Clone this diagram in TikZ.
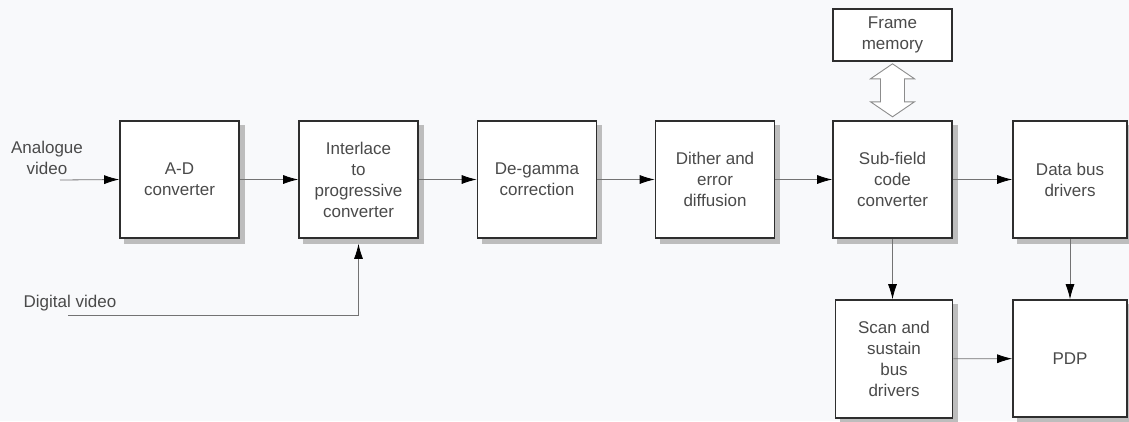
\documentclass[tikz,border=0pt]{standalone}
\usepackage{fontspec}
\setmainfont{Liberation Sans}
\usetikzlibrary{arrows.meta,calc,backgrounds}
\definecolor{bg}{HTML}{F8F9FB}
\definecolor{txt}{HTML}{4A4A4A}
\definecolor{edge}{HTML}{2E2E2E}
\definecolor{shd}{HTML}{BDBDBD}
\begin{document}
\begin{tikzpicture}[x=1pt,y=-1pt,
  blk/.style={draw=edge, line width=1.6pt, fill=white, minimum width=119pt, minimum height=117pt,
    align=center, text=txt, font=\fontsize{17}{21}\selectfont, inner sep=2pt},
  conn/.style={draw=black!55, line width=0.8pt, -{Latex[length=15pt,width=9pt,color=black]}},
  lbl/.style={text=txt, font=\fontsize{17}{21}\selectfont, align=center, inner sep=0pt},
  shadowbox/.style={fill=shd}]
\useasboundingbox (0,0) rectangle (1129,421);

\node[blk] (ad) at (179.5,179.5) {A-D\\converter};
\node[blk] (il) at (358.5,179.5) {Interlace\\to\\progressive\\converter};
\node[blk] (dg) at (537,179.5) {De-gamma\\correction};
\node[blk] (dt) at (715,179.5) {Dither and\\error\\diffusion};
\node[blk] (sf) at (892.5,179.5) {Sub-field\\code\\converter};
\node[blk, minimum width=114pt] (db) at (1070,179.5) {Data bus\\drivers};
\node[blk, minimum height=52pt] (fm) at (892.5,35) {Frame\\memory};
\node[blk, minimum width=117pt, minimum height=118pt] (sc) at (894,359) {Scan and\\sustain\\bus\\drivers};
\node[blk, minimum width=114pt] (pdp) at (1070,358.5) {PDP};

\begin{scope}[on background layer]
  \fill[bg] (0,0) rectangle (1129,421);
  \foreach \n in {ad,il,dg,dt,sf,db,sc,pdp}
    \fill[shadowbox] ($(\n.north west)+(5,5)$) rectangle ($(\n.south east)+(5,5)$);
\end{scope}

\node[lbl] (av) at (47,158) {Analogue\\video};
\node[lbl] (dvl) at (70,303) {Digital video};
\coordinate (avs) at (60,180);
\coordinate (dvs) at (68,315);

\draw[conn] (avs) -- (ad.west);
\draw[conn] (ad) -- (il);
\draw[conn] (il) -- (dg);
\draw[conn] (dg) -- (dt);
\draw[conn] (dt) -- (sf);
\draw[conn] (sf) -- (db);
\draw[conn] (sf.south) -- (sf.south |- sc.north);
\draw[conn] (db.south) -- (pdp.north);
\draw[conn] (sc) -- (pdp);
\draw[conn] (dvs) -- (dvs -| il.south) -- ($(il.south)+(0,5)$);

\draw[draw=black!45, line width=0.9pt, fill=white]
  ($(fm.south)+(0,2)$) -- ++(22,15) -- ++(-10,0) -- ++(0,23) -- ++(10,0)
  -- ++(-22,15) -- ++(-22,-15) -- ++(10,0) -- ++(0,-23) -- ++(-10,0) -- cycle;
\end{tikzpicture}
\end{document}
